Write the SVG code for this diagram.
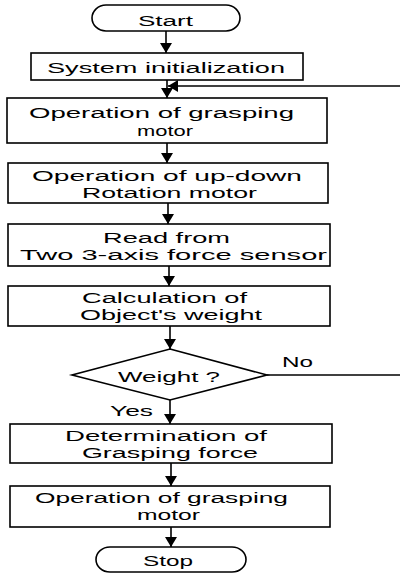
<svg xmlns="http://www.w3.org/2000/svg" width="400" height="574" viewBox="0 0 400 574">
<defs>
<marker id="ah" viewBox="0 0 10 12" markerWidth="10" markerHeight="12" refX="10" refY="6" orient="auto" markerUnits="userSpaceOnUse">
<path d="M0,0 L10,6 L0,12 z" fill="#000"/>
</marker>
</defs>
<style>
.b{fill:#fff;stroke:#000;stroke-width:1.6}
.t{font-family:"Liberation Sans",Arial,sans-serif;font-size:15.5px;fill:#000}
.c{fill:none;stroke:#000;stroke-width:1.6}
</style>
<rect width="400" height="574" fill="#fff"/>
<g id="connectors">
<line class="c" x1="166" y1="31" x2="166" y2="53" marker-end="url(#ah)"/>
<line class="c" x1="167" y1="80" x2="167" y2="98" marker-end="url(#ah)"/>
<line class="c" x1="400" y1="86" x2="168" y2="86" marker-end="url(#ah)"/>
<line class="c" x1="167" y1="143" x2="167" y2="163" marker-end="url(#ah)"/>
<line class="c" x1="168" y1="203" x2="168" y2="224" marker-end="url(#ah)"/>
<line class="c" x1="169" y1="266" x2="169" y2="286" marker-end="url(#ah)"/>
<line class="c" x1="170" y1="326" x2="170" y2="349" marker-end="url(#ah)"/>
<line class="c" x1="170" y1="400" x2="170" y2="424" marker-end="url(#ah)"/>
<line class="c" x1="171" y1="463" x2="171" y2="486" marker-end="url(#ah)"/>
<line class="c" x1="171" y1="527" x2="171" y2="547" marker-end="url(#ah)"/>
<line class="c" x1="267" y1="375" x2="400" y2="375"/>
<text class="t" x="282" y="367" textLength="31" lengthAdjust="spacingAndGlyphs">No</text>
<text class="t" x="110" y="416" textLength="43" lengthAdjust="spacingAndGlyphs">Yes</text>
</g>
<g id="start">
<rect class="b" x="92" y="5" width="148" height="26" rx="14" ry="13"/>
<text class="t" x="138" y="25.5" textLength="55" lengthAdjust="spacingAndGlyphs">Start</text>
</g>
<g id="init">
<rect class="b" x="31" y="53" width="272" height="27"/>
<text class="t" x="47" y="72.5" textLength="238" lengthAdjust="spacingAndGlyphs">System initialization</text>
</g>
<g id="grasp1">
<rect class="b" x="7" y="98" width="320" height="45"/>
<text class="t" x="29" y="118" textLength="265" lengthAdjust="spacingAndGlyphs">Operation of grasping</text>
<text class="t" x="137" y="136" textLength="56" lengthAdjust="spacingAndGlyphs">motor</text>
</g>
<g id="updown">
<rect class="b" x="8" y="163" width="320" height="40"/>
<text class="t" x="32" y="181" textLength="270" lengthAdjust="spacingAndGlyphs">Operation of up-down</text>
<text class="t" x="82" y="198" textLength="175" lengthAdjust="spacingAndGlyphs">Rotation motor</text>
</g>
<g id="read">
<rect class="b" x="8" y="224" width="322" height="42"/>
<text class="t" x="103" y="242.5" textLength="127" lengthAdjust="spacingAndGlyphs">Read from</text>
<text class="t" x="20" y="260" textLength="307" lengthAdjust="spacingAndGlyphs">Two 3-axis force sensor</text>
</g>
<g id="calc">
<rect class="b" x="8" y="286" width="322" height="40"/>
<text class="t" x="82" y="303" textLength="165" lengthAdjust="spacingAndGlyphs">Calculation of</text>
<text class="t" x="80" y="320" textLength="182" lengthAdjust="spacingAndGlyphs">Object's weight</text>
</g>
<g id="decision">
<polygon class="b" points="170,349 267,375 170,400 72,375"/>
<text class="t" x="118" y="381.5" textLength="102" lengthAdjust="spacingAndGlyphs">Weight ?</text>
</g>
<g id="determ">
<rect class="b" x="10" y="424" width="322" height="39"/>
<text class="t" x="65" y="440.5" textLength="202" lengthAdjust="spacingAndGlyphs">Determination of</text>
<text class="t" x="82" y="458" textLength="176" lengthAdjust="spacingAndGlyphs">Grasping force</text>
</g>
<g id="grasp2">
<rect class="b" x="10" y="486" width="320" height="41"/>
<text class="t" x="35" y="502.5" textLength="253" lengthAdjust="spacingAndGlyphs">Operation of grasping</text>
<text class="t" x="137" y="520" textLength="63" lengthAdjust="spacingAndGlyphs">motor</text>
</g>
<g id="stop">
<rect class="b" x="96" y="547" width="150" height="25" rx="14" ry="12.5"/>
<text class="t" x="143" y="565.5" textLength="50" lengthAdjust="spacingAndGlyphs">Stop</text>
</g>
</svg>
